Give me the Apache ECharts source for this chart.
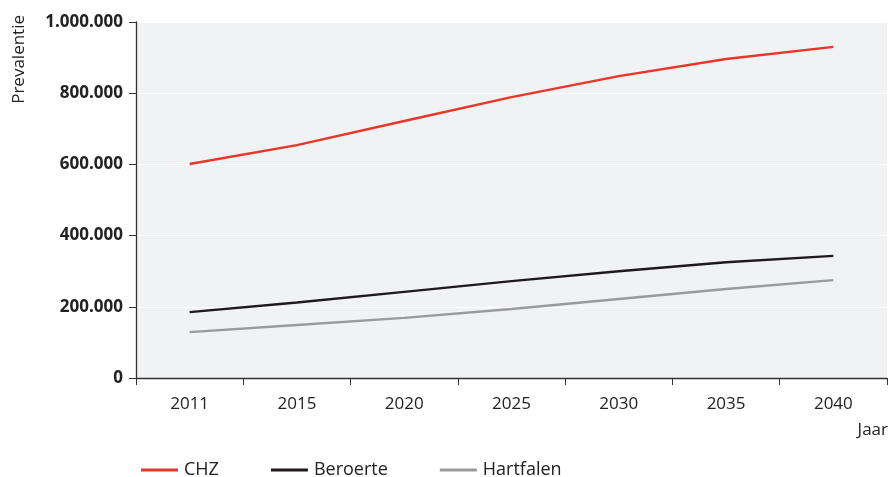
<!DOCTYPE html>
<html>
<head>
<meta charset="utf-8">
<script src="https://cdn.jsdelivr.net/npm/echarts@6/dist/echarts.min.js"></script>
<style>
  html, body { margin: 0; padding: 0; background: #fff; }
  #chart { width: 889px; height: 477px; }
</style>
</head>
<body>
<div id="chart"></div>
<script>
var years = ['2011', '2015', '2020', '2025', '2030', '2035', '2040'];
var chz = [601000, 654000, 722000, 789000, 848000, 896000, 930000];
var beroerte = [185000, 212000, 242000, 272000, 300000, 325000, 343000];
var hartfalen = [129000, 149000, 169000, 194000, 222000, 250000, 275000];

function fmtNum(v) {
    return String(v).replace(/\B(?=(\d{3})+(?!\d))/g, '.');
}

var font = 'Open Sans';

var chart = echarts.init(document.getElementById('chart'));
var option = {
    animation: false,
    grid: {
        left: 136, right: 2, top: 22, bottom: 99,
        show: true, backgroundColor: '#f1f2f4', borderWidth: 0
    },
    legend: {
        left: 136, top: 456,
        icon: 'rect', itemWidth: 37, itemHeight: 3, itemGap: 52,
        textStyle: { fontFamily: font, fontSize: 18, color: '#222', padding: [0, 0, 0, 1] },
        data: ['CHZ', 'Beroerte', 'Hartfalen']
    },
    xAxis: {
        type: 'category',
        data: years,
        boundaryGap: true,
        axisLine: { lineStyle: { color: '#333', width: 1.3 } },
        axisTick: { show: true, length: 7, lineStyle: { color: '#333' } },
        axisLabel: { fontFamily: font, fontSize: 17, color: '#222', margin: 18 },
        splitLine: { show: false }
    },
    yAxis: {
        type: 'value',
        min: 0, max: 1000000, interval: 200000,
        axisLine: { show: true, lineStyle: { color: '#333', width: 1.3 } },
        axisTick: { show: true, length: 7, lineStyle: { color: '#333' } },
        axisLabel: { fontFamily: font, fontSize: 17, fontWeight: 'bold', color: '#222', margin: 13, formatter: fmtNum },
        splitLine: { show: true, lineStyle: { color: '#ffffff', width: 1.2 } }
    },
    graphic: [
        {
            type: 'text', left: 11, top: 15, rotation: Math.PI / 2,
            style: { text: 'Prevalentie', fontFamily: font, fontSize: 17, fill: '#222' }
        },
        {
            type: 'text', right: 1, top: 422,
            style: { text: 'Jaar', fontFamily: font, fontSize: 17, fill: '#222' }
        }
    ],
    series: [
        { name: 'CHZ', type: 'line', data: chz, symbol: 'none',
          lineStyle: { color: '#e8362a', width: 2.4 }, itemStyle: { color: '#e8362a' } },
        { name: 'Beroerte', type: 'line', data: beroerte, symbol: 'none',
          lineStyle: { color: '#1e1a1b', width: 2.4 }, itemStyle: { color: '#1e1a1b' } },
        { name: 'Hartfalen', type: 'line', data: hartfalen, symbol: 'none',
          lineStyle: { color: '#9a9a9a', width: 2.4 }, itemStyle: { color: '#9a9a9a' } }
    ]
};
chart.setOption(option);
</script>
</body>
</html>
